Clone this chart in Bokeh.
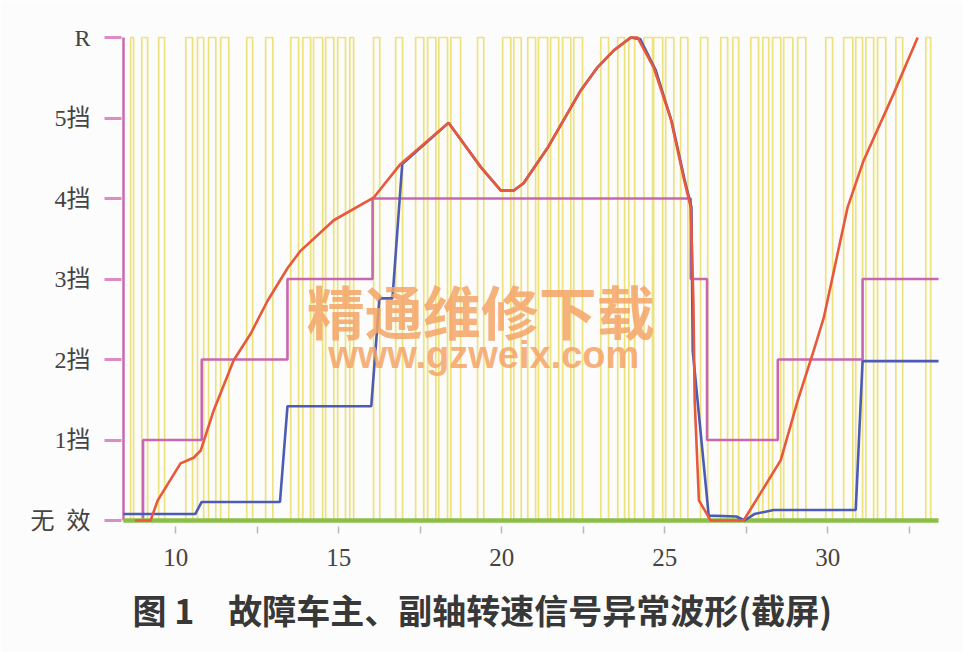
from bokeh.plotting import figure
from bokeh.models import Range1d, FixedTicker, Label, Title
from bokeh.embed import file_html
from bokeh.resources import INLINE

# ---------------- data ----------------
gear_labels = ["无\u2002效", "1挡", "2挡", "3挡", "4挡", "5挡", "R"]
x_major_ticks = [10, 15, 20, 25, 30]
x_minor_ticks = [12.5, 17.5, 22.5, 27.5, 32.5]

t_start = 8.4
t_end = 33.4

# gear command (pink step)
pink_t = [8.4, 9.0, 9.0, 10.8, 10.8, 13.43, 13.43, 16.04, 16.04, 25.8, 25.8,
          26.3, 26.3, 28.47, 28.47, 31.07, 31.07, 33.4]
pink_g = [0, 0, 1, 1, 2, 2, 3, 3, 4, 4, 3, 3, 1, 1, 2, 2, 3, 3]

# red trace
red_t = [8.75, 9.23, 9.45, 10.15, 10.55, 10.77, 11.17, 11.78, 12.30, 12.82, 13.44,
         13.83, 14.85, 16.07, 16.90, 18.37, 19.36, 19.97, 20.37, 20.67, 21.41,
         22.42, 22.94, 23.44, 23.96, 24.17, 24.66, 25.18, 25.58, 25.80, 25.88,
         25.92, 26.05, 26.41, 27.42, 27.94, 28.56, 29.08, 29.57, 29.88, 30.61,
         31.10, 32.02, 32.76]
red_v = [0, 0, 0.25, 0.71, 0.78, 0.87, 1.37, 1.99, 2.32, 2.73, 3.14,
         3.35, 3.73, 4.01, 4.43, 4.94, 4.39, 4.10, 4.10, 4.19, 4.63,
         5.34, 5.63, 5.84, 6.0, 6.0, 5.63, 5.0, 4.26, 3.89, 2.73,
         1.49, 0.25, 0, 0, 0.34, 0.75, 1.49, 2.11, 2.52, 3.89,
         4.47, 5.30, 6.0]

# blue trace
blue_t = [8.4, 10.6, 10.8, 13.2, 13.43, 16.0, 16.25, 16.65, 16.95, 18.37, 19.36,
          19.97, 20.37, 20.67, 21.41, 22.42, 22.94, 23.44, 23.96, 24.25, 24.72,
          25.22, 25.6, 25.82, 25.86, 26.35, 27.2, 27.45, 27.75, 28.34, 30.86,
          31.07, 33.4]
blue_v = [0.08, 0.08, 0.23, 0.23, 1.42, 1.42, 2.76, 2.76, 4.43, 4.94, 4.39,
          4.10, 4.10, 4.19, 4.63, 5.34, 5.63, 5.84, 6.0, 5.98, 5.6,
          4.95, 4.25, 3.89, 2.11, 0.06, 0.05, 0.0, 0.08, 0.13, 0.13,
          1.98, 1.98]

# yellow pulse signal (rise / fall times)
pulse_rise = [8.62, 8.96, 9.48, 10.31, 10.67, 11.01, 11.38, 12.18, 12.76, 13.53,
              13.90, 14.23, 14.60, 14.97, 15.34, 16.07, 16.75, 17.36, 17.73, 18.07,
              18.44, 19.26, 20.03, 20.37, 20.80, 21.13, 21.50, 21.87, 22.21, 23.04,
              23.56, 23.90, 24.36, 24.66, 25.03, 25.49, 26.10, 26.72, 27.09, 27.64,
              28.01, 28.31, 28.65, 29.08, 29.94, 30.49, 30.86, 31.17, 31.53, 32.09,
              33.01]
pulse_fall = [8.71, 9.14, 9.66, 10.52, 10.86, 11.23, 11.63, 12.36, 12.98, 13.77,
              14.14, 14.51, 14.85, 15.21, 15.46, 16.26, 16.96, 17.61, 17.98, 18.34,
              18.74, 19.45, 20.28, 20.60, 21.04, 21.41, 21.75, 22.12, 22.48, 23.28,
              23.77, 24.08, 24.63, 24.94, 25.28, 25.71, 26.32, 26.93, 27.27, 27.88,
              28.19, 28.56, 28.93, 29.33, 30.15, 30.77, 31.07, 31.41, 31.78, 32.30,
              33.16]

caption = "图 1\u3000故障车主、副轴转速信号异常波形(截屏)"
watermark_cn = "精通维修下载"
watermark_url = "www.gzweix.com"

# ---------------- figure ----------------
top = len(gear_labels) - 1
p = figure(width=963, height=652,
           x_range=Range1d(8.339, 33.46), y_range=Range1d(-0.0745, 6.05),
           output_backend="svg", toolbar_location=None,
           min_border_left=121, min_border_right=23,
           min_border_top=33, min_border_bottom=126)
p.background_fill_color = "#fcfcfc"
p.border_fill_color = "#fcfcfc"
p.outline_line_color = None
p.grid.visible = False

# y axis
p.yaxis.ticker = FixedTicker(ticks=list(range(len(gear_labels))), minor_ticks=[])
p.yaxis.major_label_overrides = {i: s for i, s in enumerate(gear_labels)}
p.yaxis.axis_line_color = None
p.yaxis.major_tick_line_color = "#dc8cc4"
p.yaxis.major_tick_line_width = 3
p.yaxis.major_tick_in = 0
p.yaxis.major_tick_out = 17
p.yaxis.major_label_standoff = 14
p.yaxis.major_label_text_font = "Liberation Serif, Noto Sans CJK SC"
p.yaxis.major_label_text_font_size = "24px"
p.yaxis.major_label_text_color = "#444444"

# x axis
p.xaxis.ticker = FixedTicker(ticks=x_major_ticks, minor_ticks=x_minor_ticks)
p.xaxis.axis_line_color = None
p.xaxis.major_tick_line_color = "#b8b8b8"
p.xaxis.minor_tick_line_color = "#b8b8b8"
p.xaxis.major_tick_line_width = 1.5
p.xaxis.minor_tick_line_width = 1.5
p.xaxis.major_tick_in = 0
p.xaxis.major_tick_out = 7
p.xaxis.minor_tick_in = 0
p.xaxis.minor_tick_out = 7
p.xaxis.major_label_standoff = 15
p.xaxis.major_label_text_font = "Liberation Serif"
p.xaxis.major_label_text_font_size = "25px"
p.xaxis.major_label_text_color = "#444444"

# caption below the chart
p.add_layout(Title(text=caption, align="left", offset=11, text_font="Noto Sans CJK SC",
                   text_font_style="bold", text_font_size="34px",
                   text_color="#383838", standoff=29), "below")

# yellow pulse train
yx, yy = [], []
for r, f in zip(pulse_rise, pulse_fall):
    yx += [r, r, f, f]
    yy += [0, top, top, 0]
p.line(yx, yy, line_color="#ede27c", line_width=1.7)

# pink axis line at start of record
p.line([t_start, t_start], [0, top], line_color="#c968b2", line_width=2.5)

# pink gear trace
p.line(pink_t, pink_g, line_color="#c966b0", line_width=2.6)

# green baseline
p.line([t_start, t_end], [0, 0], line_color="#8cbf4a", line_width=4.5)

# blue and red traces
p.line(blue_t, blue_v, line_color="#4d5bb4", line_width=2.6)
p.line(red_t, red_v, line_color="#e8583a", line_width=2.6)

# watermark
p.add_layout(Label(x=19.36, y=2.61, text=watermark_cn, text_align="center",
                   text_baseline="middle", text_font="Noto Sans CJK SC",
                   text_font_style="bold", text_font_size="58px",
                   text_color="#f5a466", text_alpha=0.85))
p.add_layout(Label(x=19.45, y=2.05, text=watermark_url, text_align="center",
                   text_baseline="middle", text_font="Liberation Sans",
                   text_font_style="bold", text_font_size="38px",
                   text_color="#f5a466", text_alpha=0.85))

open("out.html", "w").write(file_html(p, INLINE))
